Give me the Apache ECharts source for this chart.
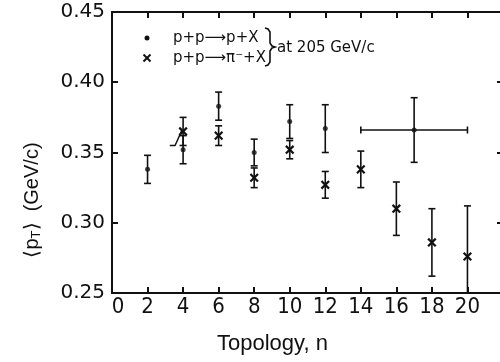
<!DOCTYPE html>
<html><head><meta charset="utf-8">
<script src="https://cdn.jsdelivr.net/npm/echarts@6/dist/echarts.min.js"></script>
<style>html,body{margin:0;padding:0;background:#fff}#c{width:500px;height:362px}</style>
</head><body><div id="c"></div>
<script>
// ---- data ----
const xTickValues = [0, 2, 4, 6, 8, 10, 12, 14, 16, 18, 20];
const yTickLabels = ['0.25', '0.30', '0.35', '0.40', '0.45'];
// p+p -> p+X
const protonN    = [2, 4, 6, 8, 10, 12, 17];
const protonPt   = [0.338, 0.352, 0.383, 0.350, 0.372, 0.367, 0.366];
const protonErr  = [0.010, 0.010, 0.010, 0.0095, 0.012, 0.017, 0.023];
const protonNErr = [0, 0, 0, 0, 0, 0, 3];
// p+p -> pi- + X
const pionN   = [4, 6, 8, 10, 12, 14, 16, 18, 20];
const pionPt  = [0.365, 0.362, 0.332, 0.352, 0.327, 0.338, 0.310, 0.286, 0.276];
const pionErr = [0.010, 0.007, 0.007, 0.0065, 0.0095, 0.013, 0.019, 0.024, 0.036];
// small hand-drawn stroke near n=4
const noteN  = [3.25, 3.55, 3.92];
const notePt = [0.355, 0.355, 0.3655];

const INK = '#111';
const chart = echarts.init(document.getElementById('c'));

function errRender(withCross) {
  return function (params, api) {
    const x = api.value(0), y = api.value(1), e = api.value(2), ex = api.value(3) || 0;
    const c = api.coord([x, y]);
    const t = api.coord([x, y + e]);
    const b = api.coord([x, y - e]);
    const st = { stroke: INK, lineWidth: 1.6 };
    const cap = 3.5;
    const ch = [
      { type: 'line', shape: { x1: c[0], y1: t[1], x2: c[0], y2: b[1] }, style: st },
      { type: 'line', shape: { x1: c[0] - cap, y1: t[1], x2: c[0] + cap, y2: t[1] }, style: st },
      { type: 'line', shape: { x1: c[0] - cap, y1: b[1], x2: c[0] + cap, y2: b[1] }, style: st }
    ];
    if (ex > 0) {
      const l = api.coord([x - ex, y]), r = api.coord([x + ex, y]);
      ch.push({ type: 'line', shape: { x1: l[0], y1: c[1], x2: r[0], y2: c[1] }, style: st });
      ch.push({ type: 'line', shape: { x1: l[0], y1: c[1] - cap, x2: l[0], y2: c[1] + cap }, style: st });
      ch.push({ type: 'line', shape: { x1: r[0], y1: c[1] - cap, x2: r[0], y2: c[1] + cap }, style: st });
    }
    if (withCross) {
      const s = 3.8, cs = { stroke: INK, lineWidth: 2.2 };
      ch.push({ type: 'line', shape: { x1: c[0] - s, y1: c[1] - s, x2: c[0] + s, y2: c[1] + s }, style: cs });
      ch.push({ type: 'line', shape: { x1: c[0] - s, y1: c[1] + s, x2: c[0] + s, y2: c[1] - s }, style: cs });
    }
    return { type: 'group', children: ch };
  };
}

const axisCommon = {
  axisLine: { show: true, onZero: false, lineStyle: { color: INK, width: 2 } },
  axisTick: { show: true, inside: true, length: 6, lineStyle: { color: INK, width: 2 } },
  splitLine: { show: false }
};
const xFont = "'Liberation Sans Narrow', 'DejaVu Sans Condensed', 'Liberation Sans', sans-serif";

chart.setOption({
  animation: false,
  backgroundColor: '#fff',
  grid: { left: 112, top: 12, width: 391, height: 281, containLabel: false, outerBoundsMode: 'none' },
  xAxis: [
    Object.assign({
      type: 'value', min: 0, max: 22, interval: 2, position: 'bottom',
      axisLabel: {
        margin: 3, color: INK, fontSize: 22, fontFamily: xFont,
        formatter: v => xTickValues.indexOf(v) < 0 ? '' : (v === 0 ? '{z|0}' : String(v)),
        rich: { z: { padding: [0, 0, 0, 12], fontSize: 22, color: INK, fontFamily: xFont } }
      }
    }, axisCommon),
    Object.assign({
      type: 'value', min: 0, max: 22, interval: 2, position: 'top',
      axisLabel: { show: false }
    }, axisCommon)
  ],
  yAxis: [
    Object.assign({
      type: 'value', min: 0.25, max: 0.45, interval: 0.05, position: 'left',
      axisLabel: {
        margin: 7, color: INK, fontSize: 20, fontFamily: "'DejaVu Sans', sans-serif",
        formatter: v => yTickLabels.find(s => Math.abs(parseFloat(s) - v) < 1e-6) || ''
      }
    }, axisCommon),
    Object.assign({
      type: 'value', min: 0.25, max: 0.45, interval: 0.05, position: 'right',
      axisLabel: { show: false }
    }, axisCommon)
  ],
  series: [
    {
      type: 'custom', name: 'p err', clip: true,
      renderItem: errRender(false),
      encode: { x: 0, y: 1 },
      data: protonN.map((n, i) => [n, protonPt[i], protonErr[i], protonNErr[i]]),
      z: 3
    },
    {
      type: 'scatter', name: 'p+p→p+X',
      symbol: 'circle', symbolSize: 5,
      itemStyle: { color: INK },
      data: protonN.map((n, i) => [n, protonPt[i]]),
      z: 4
    },
    {
      type: 'custom', name: 'p+p→π⁻+X', clip: true,
      renderItem: errRender(true),
      encode: { x: 0, y: 1 },
      data: pionN.map((n, i) => [n, pionPt[i], pionErr[i], 0]),
      z: 3
    },
    {
      type: 'line', name: 'note', symbol: 'none',
      lineStyle: { color: INK, width: 1.5 },
      data: noteN.map((n, i) => [n, notePt[i]]),
      z: 3
    }
  ],
  graphic: [
    // legend
    { type: 'circle', shape: { cx: 147, cy: 38, r: 2.5 }, style: { fill: INK } },
    { type: 'line', shape: { x1: 143.5, y1: 54.5, x2: 150.5, y2: 61.5 }, style: { stroke: INK, lineWidth: 2 } },
    { type: 'line', shape: { x1: 143.5, y1: 61.5, x2: 150.5, y2: 54.5 }, style: { stroke: INK, lineWidth: 2 } },
    { type: 'text', x: 173, y: 38, style: { text: 'p+p⟶p+X', fill: INK, font: "15px 'DejaVu Sans'", verticalAlign: 'middle' } },
    { type: 'text', x: 173, y: 58, style: { text: 'p+p⟶π⁻+X', fill: INK, font: "15px 'DejaVu Sans'", verticalAlign: 'middle' } },
    { type: 'polyline', shape: { points: [[265, 28], [268, 29], [270, 32], [270, 43], [272, 46], [275, 47], [272, 48], [270, 51], [270, 62], [268, 65], [265, 66]] },
      style: { stroke: INK, lineWidth: 1.6, fill: null } },
    { type: 'text', x: 277, y: 48, style: { text: 'at 205 GeV/c', fill: INK, font: "15px 'DejaVu Sans'", verticalAlign: 'middle' } },
    // axis names
    { type: 'text', x: 217, y: 344, style: { text: 'Topology, n', fill: INK, font: "22px 'Liberation Sans'", verticalAlign: 'middle' } },
    { type: 'text', x: 32, y: 200, rotation: Math.PI / 2,
      style: {
        text: '⟨p{s|T}⟩  (GeV/c)', fill: INK, font: "20px 'Liberation Sans'",
        align: 'center', verticalAlign: 'middle',
        rich: { s: { fontSize: 13, fontFamily: 'Liberation Sans', fill: INK, padding: [8, 0, 0, 0] } }
      } }
  ]
});
</script></body></html>
